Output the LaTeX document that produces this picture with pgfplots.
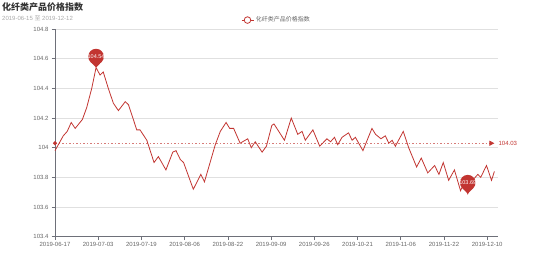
\documentclass[border=0pt]{standalone}
\usepackage{fontspec}
\setmainfont{Liberation Sans}
\newfontfamily\cjk{Noto Sans CJK SC}
\usepackage{pgfplots}
\usepackage{pgfplotstable}
\pgfplotsset{compat=1.18}
\usetikzlibrary{arrows.meta}
\definecolor{ered}{HTML}{C23531}
\definecolor{axgray}{HTML}{6E7079}
\definecolor{txtgray}{HTML}{666666}
\definecolor{ttl}{HTML}{333333}
\definecolor{sub}{HTML}{AAAAAA}

\pgfdeclareplotmark{pin}{%
  \pgfpathcircle{\pgfpoint{0pt}{11pt}}{7.8pt}%
  \pgfusepathqfill
  \pgfpathmoveto{\pgfpoint{0pt}{0pt}}%
  \pgfpathlineto{\pgfpoint{5.8pt}{6pt}}%
  \pgfpathlineto{\pgfpoint{-5.8pt}{6pt}}%
  \pgfpathclose
  \pgfusepathqfill
}

\pgfplotstableread{
x y
0 103.98
2.3 104.08
3.4 104.11
4.5 104.17
5.6 104.13
7.6 104.19
8.8 104.27
10.2 104.40
11.4 104.54
12.5 104.49
13.4 104.51
14.8 104.40
16.2 104.30
17.6 104.25
19.5 104.31
20.4 104.29
22.7 104.12
23.6 104.12
25.5 104.05
27.5 103.90
28.7 103.94
30.8 103.85
32.7 103.97
33.6 103.98
34.8 103.92
35.7 103.90
38.4 103.72
40.5 103.82
41.5 103.77
44.5 104.02
45.9 104.11
47.5 104.17
48.5 104.13
49.6 104.13
51.4 104.03
53.5 104.06
54.5 104.00
55.6 104.04
57.5 103.97
58.7 104.01
60.2 104.15
60.8 104.16
61.6 104.13
63.7 104.05
65.6 104.20
67.4 104.09
68.6 104.11
69.5 104.05
71.6 104.12
73.5 104.01
75.5 104.06
76.5 104.04
77.6 104.07
78.5 104.02
79.7 104.07
81.5 104.10
82.5 104.05
83.4 104.07
85.5 103.98
88.0 104.13
89.0 104.09
90.5 104.06
91.7 104.08
92.7 104.03
93.6 104.05
94.5 104.01
96.7 104.11
98.2 104.00
100.4 103.87
101.7 103.93
103.5 103.83
105.4 103.88
106.6 103.82
107.8 103.90
109.3 103.78
110.9 103.85
112.6 103.71
113.5 103.76
114.6 103.69
116.3 103.79
117.4 103.82
118.2 103.80
119.8 103.88
121.2 103.78
122 103.84
}\mydata

\begin{document}
\begin{tikzpicture}
\path[use as bounding box] (0pt,0pt) rectangle (554pt,265pt);
\node[anchor=west, inner sep=0pt, text=ttl] at (2pt,258pt) {\cjk\bfseries\fontsize{9}{10}\selectfont 化纤类产品价格指数};
\node[anchor=west, inner sep=0pt, text=sub] at (2pt,247pt) {\fontsize{6}{7}\selectfont 2019-06-15 {\cjk 至} 2019-12-12};
\begin{axis}[
  at={(55pt,28.3pt)}, anchor=south west,
  scale only axis, width=443pt, height=207.7pt,
  xmin=0, xmax=123, ymin=103.4, ymax=104.8,
  clip=false,
  axis lines*=left,
  axis line style={axgray, line width=0.6pt},
  tick style={axgray, line width=0.6pt},
  tick align=outside, major tick length=3.5pt,
  xtick={0,12,24,36,48,60,72,84,96,108,120},
  xticklabels={2019-06-17,2019-07-03,2019-07-19,2019-08-06,2019-08-22,2019-09-09,2019-09-26,2019-10-21,2019-11-06,2019-11-22,2019-12-10},
  ytick={103.4,103.6,103.8,104,104.2,104.4,104.6,104.8},
  yticklabels={103.4,103.6,103.8,104,104.2,104.4,104.6,104.8},
  ymajorgrids, grid style={black!12, line width=0.5pt},
  ticklabel style={font=\fontsize{6}{7}\selectfont, text=txtgray},
  /pgf/number format/assume math mode=true,
  xticklabel style={yshift=1pt},
  yticklabel style={xshift=0.5pt},
  legend style={at={(0.5,1.043)}, anchor=center, draw=none, fill=none,
    font=\cjk\fontsize{6}{7}\selectfont, text=txtgray, inner sep=0pt},
  legend image code/.code={%
    \draw[ered, line width=0.8pt] (0pt,0pt) -- (12pt,0pt);
    \draw[ered, line width=0.8pt, fill=white] (6pt,0pt) circle (3.3pt);},
]
\addplot[forget plot, ered!65, line width=0.7pt, dash pattern=on 1.6pt off 1.9pt,
  -{Triangle[length=5pt,width=5pt,color=ered]}] coordinates {(0,104.03) (122,104.03)};
\addplot[ered, line width=0.8pt] table[x=x,y=y] {\mydata};
\addlegendentry{化纤类产品价格指数}
\addplot[forget plot, only marks, mark=*, mark size=1.8pt, ered] coordinates {(0,104.03)};
\addplot[forget plot, draw=none, mark=none, point meta=explicit symbolic,
  nodes near coords, nodes near coords style={anchor=west, xshift=4pt, yshift=0pt, text=ered, font=\fontsize{6}{7}\selectfont, inner sep=0pt}]
  coordinates {(122,104.03) [104.03]};
\addplot[forget plot, only marks, mark=pin, ered, point meta=explicit symbolic,
  nodes near coords, nodes near coords style={anchor=center, yshift=11pt, text=white, font=\fontsize{5.5}{6}\selectfont, inner sep=0pt}]
  coordinates {(11.4,104.54) [104.54] (114.6,103.69) [103.69]};
\end{axis}
\end{tikzpicture}
\end{document}
